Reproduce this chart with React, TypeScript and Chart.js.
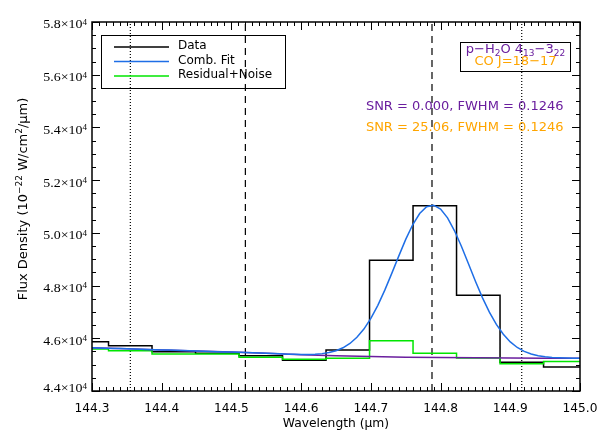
import React, { useEffect, useRef } from 'react';
import { Chart, registerables } from 'chart.js';

Chart.register(...registerables);

// ---- data ----
const binEdges = [144.2613, 144.3237, 144.3861, 144.4485, 144.5109, 144.5733, 144.6357, 144.6981, 144.7605, 144.8229, 144.8853, 144.9477, 145.0101];
const dataFlux = [45870, 45719, 45491, 45430, 45339, 45165, 45556, 48959, 51030, 47631, 45089, 44911];
const residualFlux = [45593, 45529, 45404, 45404, 45279, 45203, 45241, 45908, 45430, 45252, 45036, 45119];

const fitWave = [
  144.30, 144.31, 144.32, 144.33, 144.34, 144.35, 144.36, 144.37, 144.38, 144.39,
  144.40, 144.41, 144.42, 144.43, 144.44, 144.45, 144.46, 144.47, 144.48, 144.49,
  144.50, 144.51, 144.52, 144.53, 144.54, 144.55, 144.56, 144.57, 144.58, 144.59,
  144.60, 144.61, 144.62, 144.63, 144.64, 144.65, 144.66, 144.67, 144.68, 144.69,
  144.70, 144.71, 144.72, 144.73, 144.74, 144.75, 144.76, 144.77, 144.78, 144.79,
  144.80, 144.81, 144.82, 144.83, 144.84, 144.85, 144.86, 144.87, 144.88, 144.89,
  144.90, 144.91, 144.92, 144.93, 144.94, 144.95, 144.96, 144.97, 144.98, 144.99,
  145.00,
];
const fitFlux = [
  45644, 45635, 45626, 45617, 45608, 45600, 45592, 45584, 45576, 45568,
  45560, 45552, 45544, 45536, 45528, 45520, 45511, 45502, 45493, 45484,
  45475, 45466, 45457, 45448, 45439, 45431, 45420, 45409, 45399, 45391,
  45386, 45387, 45396, 45418, 45458, 45527, 45639, 45803, 46036, 46350,
  46754, 47250, 47827, 48462, 49118, 49751, 50307, 50734, 50990, 51049,
  50903, 50568, 50079, 49480, 48826, 48166, 47544, 46992, 46525, 46151,
  45862, 45651, 45503, 45403, 45337, 45296, 45271, 45258, 45249, 45245,
  45242,
];

const contWave = [144.30, 144.35, 144.40, 144.45, 144.50, 144.55, 144.60, 144.65, 144.70, 144.75, 144.80, 144.85, 144.90, 144.95, 145.00];
const contFlux = [45644, 45600, 45560, 45520, 45475, 45430, 45375, 45335, 45305, 45285, 45270, 45257, 45248, 45243, 45240];

const dottedLines = [144.355, 144.9164];
const dashedLines = [144.52, 144.7877];

const xTickValues = [144.3, 144.4, 144.5, 144.6, 144.7, 144.8, 144.9, 145.0];
const xTickLabels = ['144.3', '144.4', '144.5', '144.6', '144.7', '144.8', '144.9', '145.0'];
const yTickValues = [44000, 46000, 48000, 50000, 52000, 54000, 56000, 58000];
const yTickMantissas = ['4.4', '4.6', '4.8', '5.0', '5.2', '5.4', '5.6', '5.8'];
const yTickExponent = '4';

const legendLabels = ['Data', 'Comb. Fit', 'Residual+Noise'];
const snrLines = ['SNR = 0.000, FWHM = 0.1246', 'SNR = 25.06, FWHM = 0.1246'];

// ---- styles ----
const BLACK = '#000000';
const BLUE = '#1e6ee6';
const GREEN = '#00e600';
const PURPLE = '#6a1e9e';
const ORANGE = '#ffa500';
const SANS = '"DejaVu Sans", Verdana, sans-serif';
const SERIF = '"Liberation Serif", "Times New Roman", serif';

type Part = { t: string; font: string; dy?: number };

function richWidth(ctx: CanvasRenderingContext2D, parts: Part[], hs: number) {
  let w = 0;
  for (const p of parts) {
    ctx.font = p.font;
    w += ctx.measureText(p.t).width * hs;
  }
  return w;
}

function drawRich(ctx: CanvasRenderingContext2D, parts: Part[], x: number, y: number, align: string, color: string, hs = 1) {
  const w = richWidth(ctx, parts, hs);
  let cx = align === 'center' ? x - w / 2 : align === 'right' ? x - w : x;
  ctx.fillStyle = color;
  ctx.textAlign = 'left';
  ctx.textBaseline = 'alphabetic';
  for (const p of parts) {
    ctx.font = p.font;
    const pw = ctx.measureText(p.t).width * hs;
    ctx.save();
    ctx.translate(cx, y + (p.dy || 0));
    ctx.scale(hs, 1);
    ctx.fillText(p.t, 0, 0);
    ctx.restore();
    cx += pw;
  }
}

const idlPlugin = {
  id: 'idlDecor',
  afterDraw(chart: any) {
    const { ctx, chartArea: a, scales } = chart;
    const xs = scales.x;
    const ys = scales.y;
    ctx.save();
    ctx.strokeStyle = BLACK;
    ctx.lineWidth = 1;

    // inward ticks on all four sides
    ctx.beginPath();
    for (let i = 0; i <= 70; i++) {
      const v = 144.3 + i * 0.01;
      const px = Math.round(xs.getPixelForValue(v)) + 0.5;
      const len = i % 10 === 0 ? 8 : 4;
      ctx.moveTo(px, a.bottom);
      ctx.lineTo(px, a.bottom - len);
      ctx.moveTo(px, a.top);
      ctx.lineTo(px, a.top + len);
    }
    for (let i = 0; i <= 28; i++) {
      const v = 44000 + i * 500;
      const py = Math.round(ys.getPixelForValue(v)) + 0.5;
      const len = i % 4 === 0 ? 8 : 4;
      ctx.moveTo(a.left, py);
      ctx.lineTo(a.left + len, py);
      ctx.moveTo(a.right, py);
      ctx.lineTo(a.right - len, py);
    }
    ctx.stroke();

    // frame
    ctx.lineWidth = 1.5;
    ctx.strokeRect(a.left, a.top, a.right - a.left, a.bottom - a.top);

    // x tick labels
    xTickValues.forEach((v, i) => {
      const px = xs.getPixelForValue(v);
      drawRich(ctx, [{ t: xTickLabels[i], font: `12.2px ${SANS}` }], px, a.bottom + 20.7, 'center', BLACK);
    });

    // y tick labels (mantissa × 10^exp)
    yTickValues.forEach((v, i) => {
      const py = ys.getPixelForValue(v);
      const center = Math.min(py + 2.5, a.bottom - 2.7);
      drawRich(
        ctx,
        [
          { t: yTickMantissas[i] + '×10', font: `11.5px ${SERIF}` },
          { t: yTickExponent, font: `7.5px ${SERIF}`, dy: -3.5 },
        ],
        a.left - 5,
        center + 3.9,
        'right',
        BLACK,
        1.21,
      );
    });

    // x title
    drawRich(ctx, [{ t: 'Wavelength (μm)', font: `12.3px ${SANS}` }], (a.left + a.right) / 2, 427, 'center', BLACK);

    // y title
    ctx.save();
    ctx.translate(26.7, 199);
    ctx.rotate(-Math.PI / 2);
    drawRich(
      ctx,
      [
        { t: 'Flux Density (10', font: `13px ${SANS}` },
        { t: '−22', font: `9px ${SANS}`, dy: -5 },
        { t: ' W/cm', font: `13px ${SANS}` },
        { t: '2', font: `9px ${SANS}`, dy: -5 },
        { t: '/μm)', font: `13px ${SANS}` },
      ],
      0,
      0,
      'center',
      BLACK,
    );
    ctx.restore();

    // legend box
    ctx.lineWidth = 1;
    ctx.strokeStyle = BLACK;
    ctx.strokeRect(101.5, 35.5, 184, 53);
    const legendColors = [BLACK, BLUE, GREEN];
    const rowY = [47, 61.5, 76];
    legendLabels.forEach((label, i) => {
      ctx.strokeStyle = legendColors[i];
      ctx.lineWidth = 1.5;
      ctx.beginPath();
      ctx.moveTo(114, rowY[i]);
      ctx.lineTo(169, rowY[i]);
      ctx.stroke();
      drawRich(ctx, [{ t: label, font: `12px ${SANS}` }], 178, rowY[i] + 2.2, 'left', BLACK);
    });

    // line-id box
    ctx.strokeStyle = BLACK;
    ctx.lineWidth = 1;
    ctx.strokeRect(460.5, 42.5, 110, 29);
    const big = `13px ${SANS}`;
    const small = `9px ${SANS}`;
    drawRich(
      ctx,
      [
        { t: 'p−H', font: big },
        { t: '2', font: small, dy: 3 },
        { t: 'O 4', font: big },
        { t: '13', font: small, dy: 3 },
        { t: '−3', font: big },
        { t: '22', font: small, dy: 3 },
      ],
      515.5,
      52.5,
      'center',
      PURPLE,
    );
    drawRich(ctx, [{ t: 'CO J=18−17', font: big }], 515.5, 64.7, 'center', ORANGE);

    // SNR lines
    drawRich(ctx, [{ t: snrLines[0], font: big }], 563.5, 109.5, 'right', PURPLE);
    drawRich(ctx, [{ t: snrLines[1], font: big }], 563.5, 130.5, 'right', ORANGE);

    ctx.restore();
  },
};

export default function App() {
  const ref = useRef<HTMLCanvasElement>(null);

  useEffect(() => {
    const canvas = ref.current;
    if (!canvas) return;

    const stepData = binEdges.map((x, i) => ({ x, y: dataFlux[Math.min(i, dataFlux.length - 1)] }));
    const residData = binEdges.map((x, i) => ({ x, y: residualFlux[Math.min(i, residualFlux.length - 1)] }));
    const fitData = fitWave.map((x, i) => ({ x, y: fitFlux[i] }));
    const contData = contWave.map((x, i) => ({ x, y: contFlux[i] }));

    const vline = (v: number, dash: number[]) => ({
      data: [
        { x: v, y: 44000 },
        { x: v, y: 58000 },
      ],
      borderColor: BLACK,
      borderWidth: 1.2,
      borderDash: dash,
      pointRadius: 0,
    });

    const chart = new Chart(canvas, {
      type: 'line',
      data: {
        datasets: [
          { label: 'Comb. Fit', data: fitData, borderColor: BLUE, borderWidth: 1.5, pointRadius: 0 },
          { label: 'Continuum', data: contData, borderColor: PURPLE, borderWidth: 1.5, pointRadius: 0 },
          { label: 'Residual+Noise', data: residData, borderColor: GREEN, borderWidth: 1.5, pointRadius: 0, stepped: true },
          { label: 'Data', data: stepData, borderColor: BLACK, borderWidth: 1.5, pointRadius: 0, stepped: true },
          ...dashedLines.map((v) => vline(v, [7, 5])),
          ...dottedLines.map((v) => vline(v, [1, 2])),
        ] as any,
      },
      options: {
        animation: false,
        responsive: false,
        maintainAspectRatio: false,
        devicePixelRatio: 1,
        layout: { padding: { left: 92, right: 30, top: 22, bottom: 45 } },
        plugins: { legend: { display: false }, tooltip: { enabled: false } },
        elements: { line: { tension: 0 }, point: { radius: 0 } },
        scales: {
          x: { type: 'linear', min: 144.3, max: 145.0, display: false },
          y: { type: 'linear', min: 44000, max: 58000, display: false },
        },
      } as any,
      plugins: [idlPlugin as any],
    });

    return () => chart.destroy();
  }, []);

  return (
    <div style={{ position: 'fixed', left: 0, top: 0, width: 610, height: 436, background: '#ffffff' }}>
      <canvas ref={ref} width={610} height={436} style={{ display: 'block', width: 610, height: 436 }} />
    </div>
  );
}
